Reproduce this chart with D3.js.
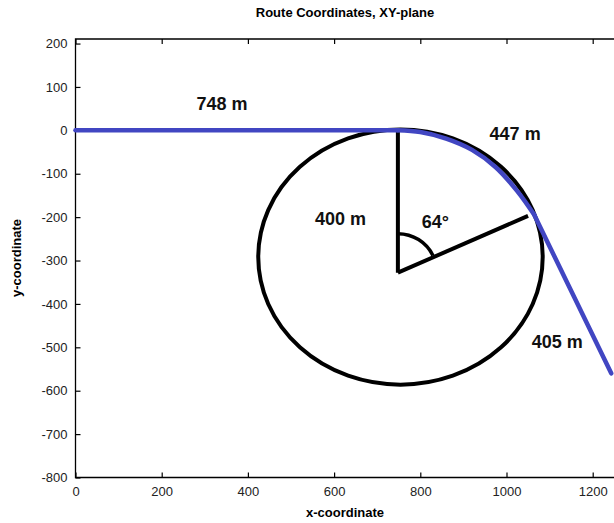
<!DOCTYPE html>
<html>
<head>
<meta charset="utf-8">
<script src="https://cdn.jsdelivr.net/npm/d3@7"></script>
<style>
  body { margin: 0; background: #fff; }
  svg { display: block; }
</style>
</head>
<body>
<div id="chart"></div>
<script>
// Chart values
const xTicks = [0, 200, 400, 600, 800, 1000, 1200];
const yTicks = [200, 100, 0, -100, -200, -300, -400, -500, -600, -700, -800];

// Route (blue line): straight, curve, straight
const routeX = [0, 748, 800, 860, 920, 975, 1025, 1064, 1243];
const routeY = [0, 0, -4, -19, -45, -85, -140, -194, -560];
const curveStart = 1, curveEnd = 7; // indices where the bend begins / ends

// Hand drawn annotations (data units)
const ellipseCenter = [754, -292];
const ellipseRadii = [330, 294];
const vertLine = [[748, 0], [748, -328]];
const radiusLine = [[748, -328], [1050, -197]];
const angleDeg = 64;
const labels = [
  { text: "748 m", x: 340, y: 60 },
  { text: "447 m", x: 1020, y: -8 },
  { text: "400 m", x: 615, y: -205 },
  { text: "64\u00b0", x: 835, y: -212 },
  { text: "405 m", x: 1118, y: -488 }
];

const W = 614, H = 523;
const mLeft = 75.5, mTop = 39, mBottom = 477.5;
const k = 0.431;

const x = d3.scaleLinear().domain([0, 1400]).range([mLeft, mLeft + 1400 * k]);
const y = d3.scaleLinear().domain([-800, 210.5]).range([mBottom, mTop]);

const svg = d3.select("#chart").append("svg")
  .attr("width", W).attr("height", H);

const tickFont = "'Liberation Sans Narrow', 'Liberation Sans', Arial, sans-serif";
const fmt = v => String(v);

// Title
svg.append("text")
  .attr("x", 345).attr("y", 17)
  .attr("text-anchor", "middle")
  .style("font-family", tickFont)
  .style("font-weight", "bold").style("font-size", "13px")
  .text("Route Coordinates, XY-plane");

// Axes box
const mRight = x(1400);
svg.append("path")
  .attr("d", `M${mRight},${mTop}H${mLeft}V${mBottom}H${mRight}`)
  .attr("fill", "none").attr("stroke", "#000").attr("stroke-width", 1.3);

// bottom axis
const xAxis = d3.axisBottom(x).tickValues(xTicks).tickSize(-5).tickPadding(9).tickFormat(fmt);
const gx = svg.append("g").attr("transform", `translate(0,${mBottom})`).call(xAxis);
gx.select(".domain").remove();
// top mirror ticks
const gxt = svg.append("g").attr("transform", `translate(0,${mTop})`)
  .call(d3.axisTop(x).tickValues(xTicks).tickSize(-5).tickFormat(""));
gxt.select(".domain").remove();

// left axis
const yAxis = d3.axisLeft(y).tickValues(yTicks).tickSize(-5).tickPadding(8).tickFormat(fmt);
const gy = svg.append("g").attr("transform", `translate(${mLeft},0)`).call(yAxis);
gy.select(".domain").remove();

svg.selectAll(".tick line").attr("stroke", "#000").attr("stroke-width", 1.2);
svg.selectAll(".tick text")
  .style("font-family", tickFont).style("font-size", "13px").attr("fill", "#222");

// Axis labels
svg.append("text")
  .attr("x", 345).attr("y", 517)
  .attr("text-anchor", "middle")
  .style("font-family", tickFont)
  .style("font-weight", "bold").style("font-size", "13px")
  .text("x-coordinate");

svg.append("text")
  .attr("transform", `translate(21,258) rotate(-90)`)
  .attr("text-anchor", "middle")
  .style("font-family", tickFont)
  .style("font-weight", "bold").style("font-size", "13px")
  .text("y-coordinate");

// Annotations in black
const ink = svg.append("g").attr("fill", "none").attr("stroke", "#000").attr("stroke-width", 4);
ink.append("ellipse")
  .attr("cx", x(ellipseCenter[0])).attr("cy", y(ellipseCenter[1]))
  .attr("rx", x(ellipseRadii[0]) - x(0)).attr("ry", y(0) - y(ellipseRadii[1]));

const line = d3.line().x(d => x(d[0])).y(d => y(d[1]));
ink.append("path").attr("d", line(vertLine));
ink.append("path").attr("d", line(radiusLine));

// angle arc
const vx = x(radiusLine[0][0]), vy = y(radiusLine[0][1]);
const arcR = 39;
const a = angleDeg * Math.PI / 180;
ink.append("path")
  .attr("stroke-width", 3.5)
  .attr("d", `M${vx},${vy - arcR} A${arcR},${arcR} 0 0 1 ${vx + arcR * Math.sin(a)},${vy - arcR * Math.cos(a)}`);

// Route: straight pieces drawn linear, the bend smoothed
const pts = routeX.map((v, i) => [v, routeY[i]]);
const routeG = svg.append("g").attr("fill", "none").attr("stroke", "#4146c2")
  .attr("stroke-width", 4.5).attr("stroke-linejoin", "round").attr("stroke-linecap", "round");
routeG.append("path").attr("d", line(pts.slice(0, curveStart + 1)));
routeG.append("path")
  .attr("d", d3.line().x(d => x(d[0])).y(d => y(d[1])).curve(d3.curveCatmullRom)(pts.slice(curveStart, curveEnd + 1)));
routeG.append("path").attr("d", line(pts.slice(curveEnd)));

// Annotation labels
svg.selectAll(".lbl").data(labels).enter().append("text")
  .attr("class", "lbl")
  .attr("x", d => x(d.x)).attr("y", d => y(d.y))
  .attr("text-anchor", "middle")
  .attr("dominant-baseline", "central")
  .style("font-family", "'Liberation Sans', Arial, sans-serif")
  .style("font-weight", "bold").style("font-size", "18px")
  .attr("fill", "#111")
  .text(d => d.text);
</script>
</body>
</html>
